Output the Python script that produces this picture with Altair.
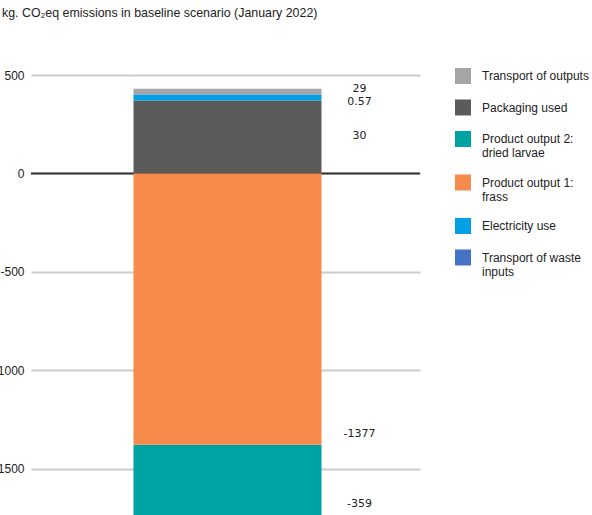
import altair as alt
import pandas as pd

# ---- data ----
categories = [
    "Transport of outputs",
    "Packaging used",
    "Product output 2: dried larvae",
    "Product output 1: frass",
    "Electricity use",
    "Transport of waste inputs",
]
values = [29, 370, -359, -1377, 30, 0.57]
stack_order = [4, 1, 2, 1, 2, 3]
colors = ["#a5a5a5", "#5b5b5b", "#00a3a3", "#f78b4b", "#00a1e2", "#4472c4"]

label_text = ["29", "0.57", "30", "-1377", "-359"]
label_value = [431, 365, 188, -1322, -1680]

y_ticks = [500, 0, -500, -1000, -1500]

df = pd.DataFrame({"bar": "baseline", "cat": categories, "value": values, "ord": stack_order})
lab = pd.DataFrame({"bar": "baseline", "text": label_text, "v": label_value})

FONT = "Liberation Sans"

x_enc = alt.X("bar:N", axis=None, scale=alt.Scale(paddingInner=0, paddingOuter=0))
y_scale = alt.Scale(domain=[-1734, 500], nice=False, zero=False)

legend_expr = (
    "datum.label == 'Product output 2: dried larvae' ? ['Product output 2:', 'dried larvae'] : "
    "datum.label == 'Product output 1: frass' ? ['Product output 1:', 'frass'] : "
    "datum.label == 'Transport of waste inputs' ? ['Transport of waste', 'inputs'] : datum.label"
)

grid = alt.Chart(df).mark_bar(opacity=0).encode(
    y=alt.Y(
        "value:Q",
        scale=y_scale,
        axis=alt.Axis(
            values=y_ticks,
            title=None,
            grid=True,
            gridColor="#cccccc",
            gridWidth=2,
            domain=False,
            ticks=False,
            labelPadding=7,
            labelFont=FONT,
            labelFontSize=12,
            labelColor="#222222",
            labelExpr="'' + datum.value",
        ),
    )
)

zero = alt.Chart(pd.DataFrame({"z": [0]})).mark_rule(color="#333333", strokeWidth=2).encode(
    y=alt.Y("z:Q", scale=y_scale)
)

bars = alt.Chart(df).mark_bar(width=188, clip=True, xOffset=2).encode(
    x=x_enc,
    y=alt.Y("sum(value):Q", scale=y_scale, stack="zero"),
    color=alt.Color(
        "cat:N",
        scale=alt.Scale(domain=categories, range=colors),
        sort=categories,
        legend=alt.Legend(
            title=None,
            orient="none",
            legendX=424,
            legendY=-7,
            symbolType="square",
            symbolSize=256,
            symbolStrokeWidth=0,
            symbolOpacity=1,
            labelFont=FONT,
            labelFontSize=12,
            labelColor="#222222",
            labelOffset=11,
            labelLimit=300,
            rowPadding=15.5,
            labelExpr=legend_expr,
        ),
    ),
    order=alt.Order("ord:Q"),
)

labels = alt.Chart(lab).mark_text(
    font="DejaVu Sans", fontSize=11, color="#222222", align="center", baseline="middle", dx=134
).encode(
    x=x_enc,
    y=alt.Y("v:Q", scale=y_scale),
    text="text:N",
)

chart = (
    alt.layer(grid, zero, bars, labels)
    .properties(
        width=389,
        height=440,
        autosize=alt.AutoSizeParams(type="none"),
        padding={"left": 31, "top": 75, "right": 172, "bottom": 0},
        title=alt.TitleParams(
            "kg. CO₂eq emissions in baseline scenario (January 2022)",
            anchor="start",
            frame="group",
            dx=-29,
            offset=49,
            font=FONT,
            fontSize=12.4,
            fontWeight="normal",
            color="#222222",
        ),
    )
    .configure_view(stroke=None)
)

chart.save("out.html", embed_options={"renderer": "svg", "actions": False})
